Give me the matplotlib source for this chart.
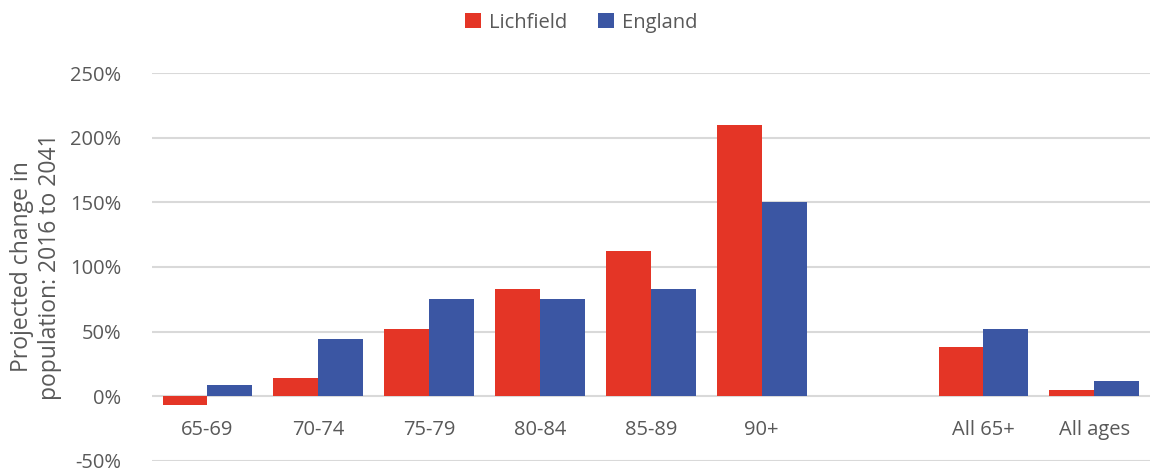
import matplotlib
matplotlib.use("Agg")
import matplotlib.pyplot as plt
import numpy as np
from matplotlib.ticker import FuncFormatter

# === Data ===
categories = ["65-69", "70-74", "75-79", "80-84", "85-89", "90+", "", "All 65+", "All ages"]
lichfield = [-7, 14, 52, 83, 112, 210, np.nan, 38, 4.5]
england = [9, 44, 75, 75, 83, 150, np.nan, 52, 12]

red = "#E43526"
blue = "#3B56A3"
grey = "#595959"

plt.rcParams['font.family'] = ['Open Sans', 'DejaVu Sans']

fig = plt.figure(figsize=(11.52, 4.75), dpi=100)
ax = fig.add_axes([0.132, 0.03, 0.866, 0.816])

x = np.arange(len(categories))
w = 0.405
ax.bar(x - w / 2, lichfield, w, color=red, label="Lichfield", zorder=3)
ax.bar(x + w / 2, england, w, color=blue, label="England", zorder=3)

# === Axes styling ===
ax.set_xlim(-0.5, len(categories) - 0.5)
ax.set_ylim(-50, 250)
ax.set_yticks(np.arange(-50, 251, 50))
ax.yaxis.set_major_formatter(FuncFormatter(lambda v, p: f"{v:.0f}%"))
ax.grid(axis='y', color="#D9D9D9", linewidth=1.5, zorder=0)

for s in ["top", "right", "left"]:
    ax.spines[s].set_visible(False)
ax.spines['bottom'].set_position(('data', 0))
ax.spines['bottom'].set_visible(False)

ax.set_xticks(x)
ax.set_xticklabels(categories)
ax.tick_params(axis='x', length=0, pad=17, labelsize=14.5, labelcolor=grey)
ax.tick_params(axis='y', length=0, pad=22, labelsize=14.5, labelcolor=grey)

ax.set_ylabel("Projected change in\npopulation: 2016 to 2041", fontsize=16.5,
              color=grey, linespacing=1.25)
ax.yaxis.set_label_coords(-0.09, 0.5)

ax.legend(loc='center', bbox_to_anchor=(0.43, 1.13), ncol=2, frameon=False,
          fontsize=14.5, labelcolor=grey, handlelength=0.8, handleheight=0.8,
          columnspacing=1.5, handletextpad=0.4)

fig.savefig("out.png", dpi=100)
